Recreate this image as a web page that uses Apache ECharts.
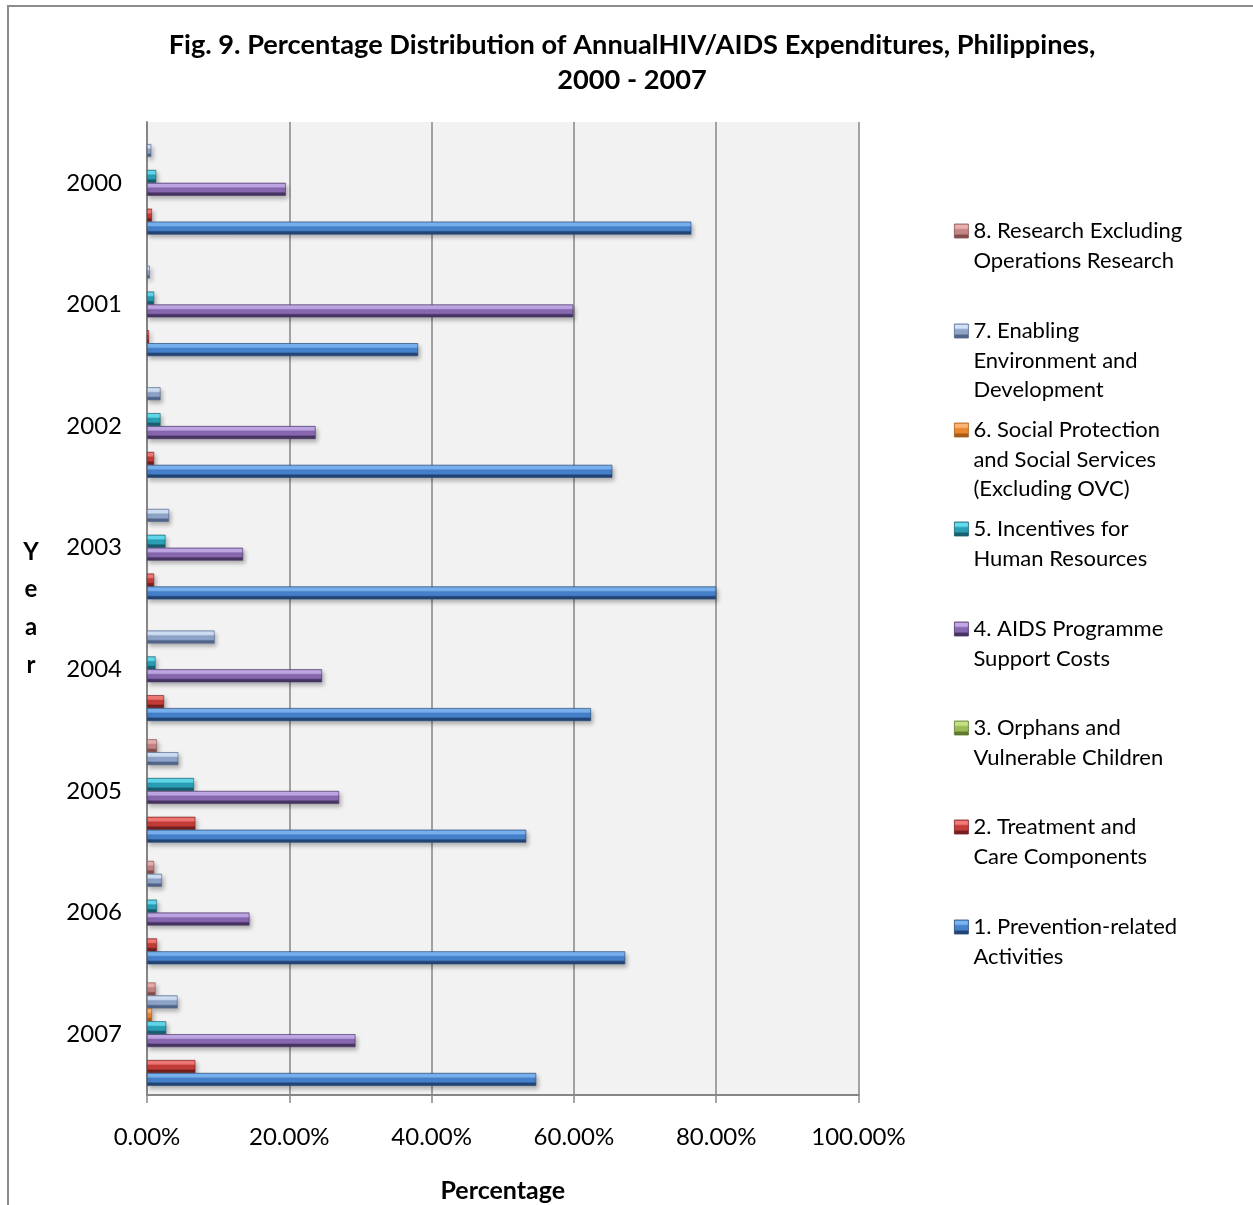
<!DOCTYPE html>
<html>
<head>
<meta charset="utf-8">
<script src="https://cdn.jsdelivr.net/npm/echarts@6/dist/echarts.min.js"></script>
<style>
html,body{margin:0;padding:0;background:#fff;}
#chart{width:1253px;height:1205px;}
</style>
</head>
<body>
<div id="chart"></div>
<script>
// ---- data ----
var years = ['2000','2001','2002','2003','2004','2005','2006','2007'];
var xTicks = [0, 20, 40, 60, 80, 100];
var s1 = [76.5, 38.1, 65.4, 80.0, 62.4, 53.3, 67.2, 54.7]; // 1. Prevention-related Activities
var s2 = [0.7, 0.3, 1.0, 1.0, 2.4, 6.8, 1.4, 6.8];         // 2. Treatment and Care Components
var s3 = [0, 0, 0, 0, 0, 0, 0, 0];                         // 3. Orphans and Vulnerable Children
var s4 = [19.5, 59.9, 23.7, 13.5, 24.6, 27.0, 14.4, 29.3]; // 4. AIDS Programme Support Costs
var s5 = [1.3, 1.0, 1.9, 2.6, 1.2, 6.6, 1.4, 2.7];         // 5. Incentives for Human Resources
var s6 = [0, 0, 0, 0, 0, 0, 0, 0.7];                       // 6. Social Protection ...
var s7 = [0.6, 0.4, 1.9, 3.1, 9.5, 4.4, 2.1, 4.3];         // 7. Enabling Environment and Development
var s8 = [0, 0, 0, 0, 0, 1.4, 1.0, 1.2];                   // 8. Research Excluding Operations Research

var names = [
  '8. Research Excluding\nOperations Research',
  '7. Enabling\nEnvironment and\nDevelopment',
  '6. Social Protection\nand Social Services\n(Excluding OVC)',
  '5. Incentives for\nHuman Resources',
  '4. AIDS Programme\nSupport Costs',
  '3. Orphans and\nVulnerable Children',
  '2. Treatment and\nCare Components',
  '1. Prevention-related\nActivities'
];
var values = [s8, s7, s6, s5, s4, s3, s2, s1];

// ---- styles ----
var FONT = 'Lato, "Open Sans", sans-serif';
var palette = [
  {light:'#e8b0ae', base:'#c48584', dark:'#84504e'}, // 8
  {light:'#d2e2f7', base:'#8ea5c9', dark:'#52658a'}, // 7
  {light:'#fbb575', base:'#e9872e', dark:'#a85b18'}, // 6
  {light:'#63dcef', base:'#2a9fb6', dark:'#185f6f'}, // 5
  {light:'#c2a9e8', base:'#8868b0', dark:'#473463'}, // 4
  {light:'#c6df86', base:'#9bbb59', dark:'#5f7a2c'}, // 3
  {light:'#f47a76', base:'#c53d39', dark:'#73201e'}, // 2
  {light:'#7ab4f2', base:'#4681cb', dark:'#224576'}  // 1
];
function grad(p){
  return new echarts.graphic.LinearGradient(0,0,0,1,[
    {offset:0, color:p.base},
    {offset:0.1, color:p.light},
    {offset:0.3, color:p.light},
    {offset:0.42, color:p.base},
    {offset:0.68, color:p.base},
    {offset:0.8, color:p.dark},
    {offset:1, color:p.dark}
  ]);
}

var lineH = 29.5;
var firstLineY = [231, 331, 430, 529, 629, 728, 827, 927];

var series = [], legends = [];
for (var i = 0; i < names.length; i++) {
  series.push({
    name: names[i],
    type: 'bar',
    data: values[i].map(function (v) { return v === 0 ? '-' : v; }),
    barGap: '0%',
    barCategoryGap: '15%',
    itemStyle: {
      color: grad(palette[i]),
      borderColor: palette[i].dark,
      borderWidth: 0.6,
      shadowColor: 'rgba(0,0,0,0.28)',
      shadowBlur: 4,
      shadowOffsetX: 2,
      shadowOffsetY: 3
    }
  });
  var n = names[i].split('\n').length;
  legends.push({
    data: [{name: names[i], itemStyle: {color: grad(palette[i]), borderColor: palette[i].dark, borderWidth: 0.8}}],
    left: 954,
    top: firstLineY[i] - (2*n - 1) * lineH / 2,
    padding: 0,
    itemWidth: 14,
    itemHeight: 14,
    icon: 'rect',
    selectedMode: false,
    formatter: (function (k) {
      return function (name) { return new Array(k).join('\n') + name; };
    })(n),
    textStyle: {
      fontFamily: FONT,
      fontSize: 22,
      color: '#000',
      lineHeight: lineH
    }
  });
}

var chart = echarts.init(document.getElementById('chart'));
chart.setOption({
  backgroundColor: '#fff',
  animation: false,
  title: {
    text: 'Fig. 9. Percentage Distribution of AnnualHIV/AIDS Expenditures, Philippines,\n2000 - 2007',
    left: 632,
    textAlign: 'center',
    top: 27.5,
    padding: 0,
    textStyle: {
      fontFamily: FONT,
      fontWeight: 'bold',
      fontSize: 27.2,
      lineHeight: 35,
      color: '#000'
    }
  },
  graphic: [{
    type: 'rect',
    shape: {x: 8, y: 6, width: 1300, height: 1300},
    style: {fill: 'none', stroke: '#8c8c8c', lineWidth: 2},
    silent: true,
    z: -1
  }],
  legend: legends,
  grid: {
    left: 147, right: 394.5, top: 122, bottom: 110,
    outerBoundsMode: 'none',
    containLabel: false,
    show: true, backgroundColor: '#f2f2f2', borderWidth: 0
  },
  xAxis: {
    type: 'value',
    min: xTicks[0],
    max: xTicks[xTicks.length - 1],
    interval: 20,
    name: 'Percentage',
    nameLocation: 'middle',
    nameGap: 83,
    nameTextStyle: {fontFamily: FONT, fontWeight: 'bold', fontSize: 25, color: '#000'},
    axisLine: {show: true, lineStyle: {color: '#868686', width: 2}},
    axisTick: {show: true, length: 8, lineStyle: {color: '#868686', width: 1.5}},
    splitLine: {show: true, lineStyle: {color: '#868686', width: 1.5}},
    axisLabel: {
      margin: 30,
      fontFamily: FONT,
      fontSize: 24,
      color: '#000',
      formatter: function (v) { return v.toFixed(2) + '%'; }
    }
  },
  yAxis: {
    type: 'category',
    data: years,
    inverse: true,
    name: 'Y\ne\na\nr',
    nameLocation: 'middle',
    nameRotate: 0,
    nameGap: 116,
    nameTextStyle: {fontFamily: FONT, fontWeight: 'bold', fontSize: 24, color: '#000', lineHeight: 37.7, align: 'center', padding: [8, 0, 0, 0]},
    axisLine: {show: true, lineStyle: {color: '#868686', width: 2}},
    axisTick: {show: false},
    splitLine: {show: false},
    axisLabel: {
      margin: 25,
      fontFamily: FONT,
      fontSize: 24,
      color: '#000'
    }
  },
  series: series
});
</script>
</body>
</html>
